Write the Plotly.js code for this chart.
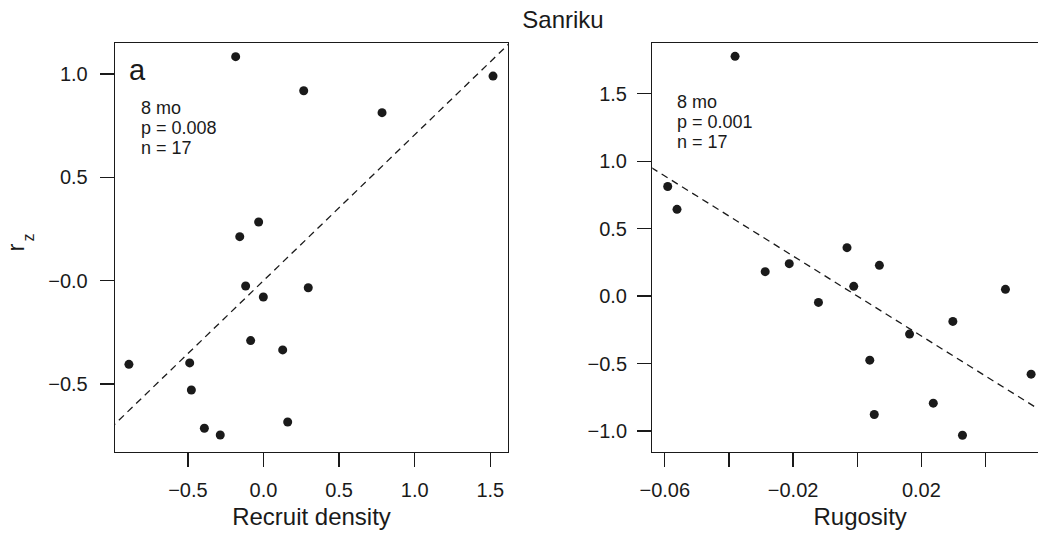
<!DOCTYPE html>
<html>
<head>
<meta charset="utf-8">
<script src="https://cdn.plot.ly/plotly-3.0.1.min.js"></script>
<style>
  html, body { margin: 0; padding: 0; overflow: hidden; background: #fff; }
  #plot { width: 1100px; height: 536px; }
</style>
</head>
<body>
<div id="plot"></div>
<script>
// ---- data ----
const recruitDensity = [-0.184, 0.266, 0.784, 1.518, -0.032, -0.157, -0.118, -0.001, 0.296, -0.085, 0.127, -0.890, -0.488, -0.477, -0.391, -0.286, 0.160];
const rzA            = [ 1.084, 0.919, 0.813, 0.990,  0.284,  0.213, -0.026, -0.079, -0.034, -0.290, -0.335, -0.405, -0.398, -0.529, -0.714, -0.747, -0.684];

const rugosity = [-0.0381, -0.0591, -0.0562, -0.0287, -0.0212, -0.0121, -0.0032, -0.0011, 0.0069, 0.0039, 0.0053, 0.0163, 0.0237, 0.0298, 0.0328, 0.0462, 0.0542];
const rzB      = [ 1.777,   0.812,   0.643,   0.181,   0.240,  -0.047,   0.359,   0.072,  0.228, -0.475, -0.878, -0.282, -0.794, -0.188, -1.032,  0.050, -0.579];

// regression lines (intercept, slope)
const fitA = {intercept: 0.0, slope: 0.706};
const fitB = {intercept: 0.0, slope: -14.83};

// tick labels
const xTickValsA = [-0.5, 0, 0.5, 1, 1.5];
const xTickTextA = ["\u22120.5", "0.0", "0.5", "1.0", "1.5"];
const yTickValsA = [-0.5, 0, 0.5, 1];
const yTickTextA = ["\u22120.5", "\u22120.0", "0.5", "1.0"];
const xTickValsB = [-0.06, -0.02, 0.02];
const xTickTextB = ["\u22120.06", "\u22120.02", "0.02"];
const xUnlabelledTicksB = [-0.04, 0, 0.04];
const yTickValsB = [-1, -0.5, 0, 0.5, 1, 1.5];
const yTickTextB = ["\u22121.0", "\u22120.5", "0.0", "0.5", "1.0", "1.5"];

const statsA = ["8 mo", "p = 0.008", "n = 17"];
const statsB = ["8 mo", "p = 0.001", "n = 17"];

// ---- layout geometry ----
const W = 1100, H = 536;
const xRangeA = [-0.982, 1.617], yRangeA = [-0.829, 1.150];
const xRangeB = [-0.0639, 0.0657], yRangeB = [-1.156, 1.876];

const ink = '#1a1a1a';
const FONT = '"Liberation Sans", Arial, Helvetica, sans-serif';

function lineEnds(fit, range) {
  const pad = (range[1] - range[0]) * 0.1;
  const xs = [range[0] - pad, range[1] + pad];
  return {x: xs, y: xs.map(v => fit.intercept + fit.slope * v)};
}
const lA = lineEnds(fitA, xRangeA);
const lB = lineEnds(fitB, xRangeB);

const traces = [
  {x: lA.x, y: lA.y, xaxis: 'x', yaxis: 'y', mode: 'lines', line: {color: ink, width: 1.3, dash: '7px,5px'}, hoverinfo: 'skip'},
  {x: recruitDensity, y: rzA, xaxis: 'x', yaxis: 'y', mode: 'markers', marker: {color: ink, size: 9}},
  {x: lB.x, y: lB.y, xaxis: 'x2', yaxis: 'y2', mode: 'lines', line: {color: ink, width: 1.3, dash: '7px,5px'}, hoverinfo: 'skip'},
  {x: rugosity, y: rzB, xaxis: 'x2', yaxis: 'y2', mode: 'markers', marker: {color: ink, size: 9}}
];

const yDom = [1 - 452 / H, 1 - 43 / H];
const axBase = {
  showline: true, mirror: true, linecolor: ink, linewidth: 1.3,
  ticks: 'outside', ticklen: 14, tickwidth: 1.3, tickcolor: ink,
  showgrid: false, zeroline: false, tickmode: 'array',
  tickfont: {family: FONT, size: 20, color: ink},
  fixedrange: true
};

const layout = {
  width: W, height: H,
  margin: {l: 0, r: 0, t: 0, b: 0},
  paper_bgcolor: '#fff', plot_bgcolor: '#fff',
  showlegend: false,
  font: {family: FONT, color: ink},
  title: {text: 'Sanriku', font: {family: FONT, size: 24, color: ink},
          x: 563 / W, xanchor: 'center', xref: 'container', y: 1 - 20 / H, yanchor: 'middle', yref: 'container'},
  xaxis: Object.assign({}, axBase, {domain: [115 / W, 508 / W], range: xRangeA, anchor: 'y',
          tickvals: xTickValsA, ticktext: xTickTextA, ticklabelstandoff: 6,
          title: {text: 'Recruit density', font: {family: FONT, size: 24, color: ink}, standoff: 8}}),
  yaxis: Object.assign({}, axBase, {domain: yDom, range: yRangeA, anchor: 'x',
          tickvals: yTickValsA, ticktext: yTickTextA, ticklabelstandoff: 8,
          title: {text: 'r', font: {family: FONT, size: 24, color: ink}, standoff: 16}}),
  xaxis2: Object.assign({}, axBase, {domain: [652.3 / W, 1068 / W], range: xRangeB, anchor: 'y2',
          tickvals: xTickValsB, ticktext: xTickTextB, ticklabelstandoff: 6,
          minor: {tickmode: 'array', tickvals: xUnlabelledTicksB, ticks: 'outside', ticklen: 14, tickwidth: 1.3, tickcolor: ink, showgrid: false},
          title: {text: 'Rugosity', font: {family: FONT, size: 24, color: ink}, standoff: 8}}),
  yaxis2: Object.assign({}, axBase, {domain: yDom, range: yRangeB, anchor: 'x2',
          tickvals: yTickValsB, ticktext: yTickTextB, ticklabelstandoff: 6}),
  annotations: []
};

// subscript "z" of the y-axis title r_z (rotated like the title)
layout.annotations.push({text: 'z', xref: 'paper', yref: 'paper', x: 27.5 / W, y: 1 - 238 / H,
  xanchor: 'center', yanchor: 'middle', textangle: -90, showarrow: false,
  font: {family: FONT, size: 16, color: ink}});

// panel letter
layout.annotations.push({text: 'a', xref: 'x domain', yref: 'y domain', x: (127 - 115) / 393, y: (452 - 70) / 409,
  xanchor: 'left', yanchor: 'middle', showarrow: false, font: {family: FONT, size: 29, color: ink}});

// stats text
function addStats(lines, xd, yd, left, topCenter) {
  lines.forEach((t, i) => {
    layout.annotations.push({text: t, xref: xd, yref: yd,
      x: left, y: topCenter - i * (20 / 409),
      xanchor: 'left', yanchor: 'middle', showarrow: false,
      font: {family: FONT, size: 18, color: ink}});
  });
}
addStats(statsA, 'x domain', 'y domain', (139 - 115) / 393, (452 - 108) / 409);
addStats(statsB, 'x2 domain', 'y2 domain', (675 - 652.3) / 415.7, (452 - 102) / 409);

Plotly.newPlot('plot', traces, layout, {staticPlot: true, displayModeBar: false});
</script>
</body>
</html>
